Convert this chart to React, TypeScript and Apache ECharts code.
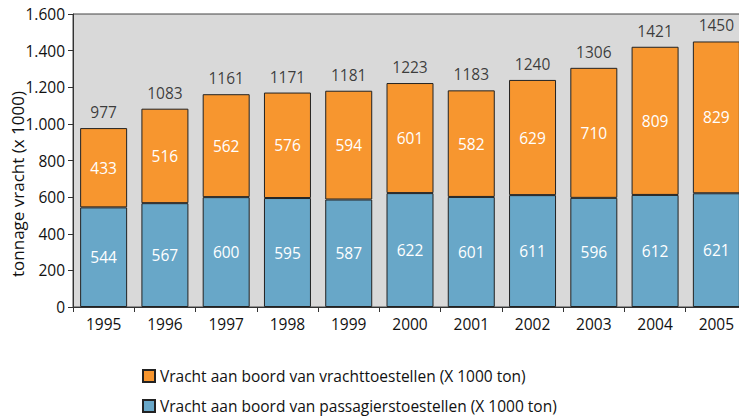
import React, { useEffect, useRef } from "react";
import * as echarts from "echarts";

const years = ["1995", "1996", "1997", "1998", "1999", "2000", "2001", "2002", "2003", "2004", "2005"];
const passagiers = [544, 567, 600, 595, 587, 622, 601, 611, 596, 612, 621];
const vracht = [433, 516, 562, 576, 594, 601, 582, 629, 710, 809, 829];
const totals = [977, 1083, 1161, 1171, 1181, 1223, 1183, 1240, 1306, 1421, 1450];

const NAME_VRACHT = "Vracht aan boord van vrachttoestellen (X 1000 ton)";
const NAME_PASS = "Vracht aan boord van passagierstoestellen (X 1000 ton)";
const AXIS_TITLE = "tonnage vracht (x 1000)";

const FONT = "Open Sans";
const ORANGE = "#f7962f";
const BLUE = "#68a7c8";
const FS = 15.5;

export default function App() {
  const ref = useRef<HTMLDivElement>(null);
  useEffect(() => {
    const chart = echarts.init(ref.current!, undefined, { renderer: "svg" });
    const legendBase = {
      orient: "horizontal",
      left: 142,
      padding: 0,
      itemWidth: 12,
      itemHeight: 12,
      itemGap: 4,
      icon: "rect",
      textStyle: { fontFamily: FONT, fontSize: FS, color: "#111" },
    };
    chart.setOption({
      animation: false,
      textStyle: { fontFamily: FONT },
      grid: {
        left: 73,
        top: 14,
        bottom: 109,
        width: 674,
        outerBoundsMode: "none",
        containLabel: false,
        show: true,
        backgroundColor: "#d9d9d9",
        borderColor: "#444",
        borderWidth: 1,
      },
      legend: [
        { ...legendBase, top: 368, data: [{ name: NAME_VRACHT }] },
        { ...legendBase, top: 398, data: [{ name: NAME_PASS }] },
      ],
      graphic: [
        {
          type: "text",
          x: 17,
          y: 184,
          rotation: Math.PI / 2,
          style: {
            text: AXIS_TITLE,
            fontFamily: FONT,
            fontSize: 17,
            fill: "#111",
            align: "center",
            verticalAlign: "middle",
          },
        },
      ],
      xAxis: {
        type: "category",
        data: years,
        axisLine: { lineStyle: { color: "#333", width: 1 } },
        axisTick: { show: true, length: 5, alignWithLabel: false, lineStyle: { color: "#333" } },
        axisLabel: { color: "#111", fontSize: FS, fontFamily: FONT, margin: 9 },
      },
      yAxis: {
        type: "value",
        min: 0,
        max: 1600,
        interval: 200,
        splitLine: { show: false },
        axisLine: { show: true, lineStyle: { color: "#333", width: 1 } },
        axisTick: { show: true, length: 5, lineStyle: { color: "#333" } },
        axisLabel: {
          color: "#111",
          fontSize: FS,
          fontFamily: FONT,
          margin: 8,
          formatter: (v: number) => v.toLocaleString("de-DE"),
        },
      },
      series: [
        {
          name: NAME_PASS,
          type: "bar",
          stack: "t",
          data: passagiers,
          barWidth: 47,
          itemStyle: { color: BLUE, borderColor: "#222", borderWidth: 1 },
          label: { show: true, position: "inside", color: "#fff", fontSize: FS, fontFamily: FONT },
        },
        {
          name: NAME_VRACHT,
          type: "bar",
          stack: "t",
          data: vracht,
          barWidth: 47,
          itemStyle: { color: ORANGE, borderColor: "#222", borderWidth: 1 },
          label: { show: true, position: "inside", color: "#fff", fontSize: FS, fontFamily: FONT },
        },
        {
          name: "totaal",
          type: "scatter",
          data: totals,
          symbolSize: 0,
          silent: true,
          label: {
            show: true,
            position: "top",
            distance: 8,
            color: "#111",
            fontSize: FS,
            fontFamily: FONT,
            formatter: (p: any) => String(p.value),
          },
        },
      ],
    });
    return () => chart.dispose();
  }, []);
  return <div ref={ref} style={{ width: 739, height: 416, position: "absolute", left: 0, top: 0 }} />;
}
